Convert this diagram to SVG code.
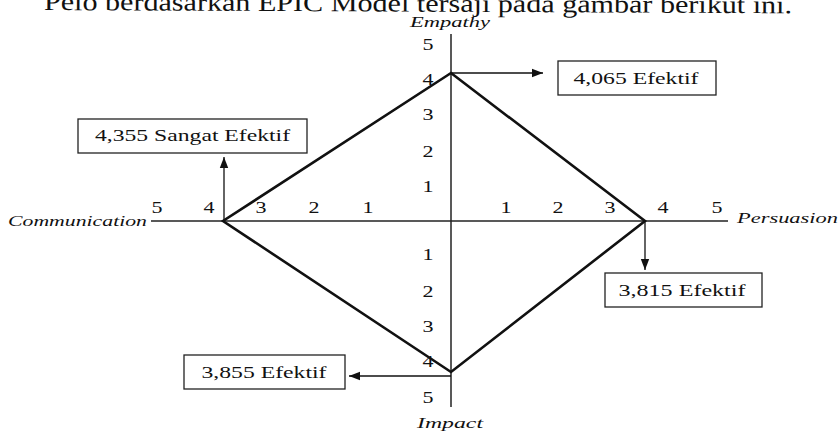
<svg xmlns="http://www.w3.org/2000/svg" width="840" height="432" viewBox="0 0 840 432">
<style>
text{font-family:"Liberation Serif","Times New Roman",serif;fill:#111}
.hd{font-size:25px}
.ax{font-size:15px;font-style:italic}
.num{font-size:16px;text-anchor:middle}
.lbl{font-size:16px;text-anchor:middle}
.axis{stroke:#222;stroke-width:1.5;fill:none}
.dia{stroke:#111;stroke-width:2.6;fill:none;stroke-linejoin:miter}
.arr{stroke:#111;stroke-width:1.3;fill:none;marker-end:url(#ah)}
.box rect{fill:#fff;stroke:#222;stroke-width:1.3}
</style>
<defs>
<marker id="ah" markerUnits="userSpaceOnUse" markerWidth="12" markerHeight="10" viewBox="0 0 12 10" refX="11" refY="5" orient="auto">
<path d="M0,0.8 L11,5 L0,9.2 Z" fill="#111"/>
</marker>
</defs>
<rect width="840" height="432" fill="#fff"/>
<text class="hd" x="44" y="10" textLength="748" lengthAdjust="spacingAndGlyphs" transform="rotate(0.25 44 10)">Pelo berdasarkan EPIC Model tersaji pada gambar berikut ini.</text>
<g id="axes">
<line class="axis" x1="451" y1="34" x2="451" y2="407"/>
<line class="axis" x1="151" y1="221" x2="728" y2="221"/>
<text class="ax" x="410" y="27" textLength="80" lengthAdjust="spacingAndGlyphs">Empathy</text>
<text class="ax" x="417" y="428" textLength="66" lengthAdjust="spacingAndGlyphs">Impact</text>
<text class="ax" x="8" y="226" textLength="139" lengthAdjust="spacingAndGlyphs">Communication</text>
<text class="ax" x="737" y="223" textLength="101" lengthAdjust="spacingAndGlyphs">Persuasion</text>
</g>
<g id="ticks">
<text class="num" x="428" y="50" textLength="11" lengthAdjust="spacingAndGlyphs">5</text>
<text class="num" x="428" y="85" textLength="11" lengthAdjust="spacingAndGlyphs">4</text>
<text class="num" x="428" y="120" textLength="11" lengthAdjust="spacingAndGlyphs">3</text>
<text class="num" x="428" y="157" textLength="11" lengthAdjust="spacingAndGlyphs">2</text>
<text class="num" x="428" y="192" textLength="11" lengthAdjust="spacingAndGlyphs">1</text>
<text class="num" x="428" y="260" textLength="11" lengthAdjust="spacingAndGlyphs">1</text>
<text class="num" x="428" y="297" textLength="11" lengthAdjust="spacingAndGlyphs">2</text>
<text class="num" x="428" y="332" textLength="11" lengthAdjust="spacingAndGlyphs">3</text>
<text class="num" x="428" y="367" textLength="11" lengthAdjust="spacingAndGlyphs">4</text>
<text class="num" x="428" y="403" textLength="11" lengthAdjust="spacingAndGlyphs">5</text>
<text class="num" x="157" y="213" textLength="11" lengthAdjust="spacingAndGlyphs">5</text>
<text class="num" x="209" y="213" textLength="11" lengthAdjust="spacingAndGlyphs">4</text>
<text class="num" x="261" y="213" textLength="11" lengthAdjust="spacingAndGlyphs">3</text>
<text class="num" x="314" y="213" textLength="11" lengthAdjust="spacingAndGlyphs">2</text>
<text class="num" x="368" y="213" textLength="11" lengthAdjust="spacingAndGlyphs">1</text>
<text class="num" x="506" y="213" textLength="11" lengthAdjust="spacingAndGlyphs">1</text>
<text class="num" x="558" y="213" textLength="11" lengthAdjust="spacingAndGlyphs">2</text>
<text class="num" x="610" y="213" textLength="11" lengthAdjust="spacingAndGlyphs">3</text>
<text class="num" x="663" y="213" textLength="11" lengthAdjust="spacingAndGlyphs">4</text>
<text class="num" x="717" y="213" textLength="11" lengthAdjust="spacingAndGlyphs">5</text>
</g>
<g id="diamond">
<polygon class="dia" points="451,73 645,221 451,372 223,221"/>
</g>
<g id="connectors">
<line class="arr" x1="224" y1="221" x2="224" y2="157"/>
<line class="arr" x1="451" y1="73" x2="543" y2="73"/>
<line class="arr" x1="645" y1="221" x2="645" y2="270"/>
<line class="arr" x1="451" y1="376" x2="349" y2="376"/>
</g>
<g id="communication-box" class="box">
<rect x="78" y="119" width="229" height="34"/>
<text class="lbl" x="192.5" y="141" textLength="195" lengthAdjust="spacingAndGlyphs">4,355 Sangat Efektif</text>
</g>
<g id="empathy-box" class="box">
<rect x="558" y="61" width="158" height="34"/>
<text class="lbl" x="636" y="84" textLength="125" lengthAdjust="spacingAndGlyphs">4,065 Efektif</text>
</g>
<g id="persuasion-box" class="box">
<rect x="605" y="273" width="157" height="34"/>
<text class="lbl" x="682" y="296" textLength="127" lengthAdjust="spacingAndGlyphs">3,815 Efektif</text>
</g>
<g id="impact-box" class="box">
<rect x="184" y="355" width="161" height="34"/>
<text class="lbl" x="264" y="378" textLength="125" lengthAdjust="spacingAndGlyphs">3,855 Efektif</text>
</g>
</svg>
